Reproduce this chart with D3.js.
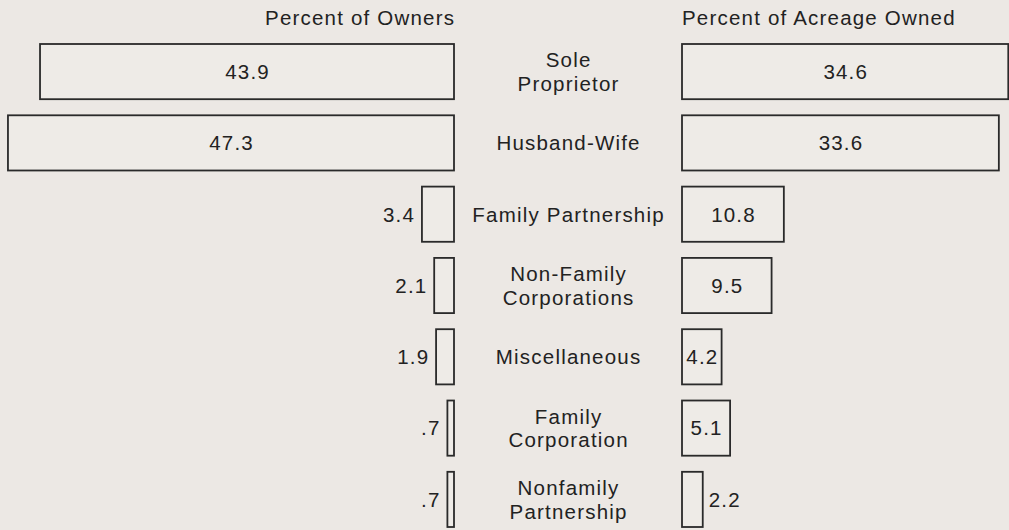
<!DOCTYPE html>
<html>
<head>
<meta charset="utf-8">
<script src="https://cdn.jsdelivr.net/npm/d3@7"></script>
<style>
  html, body { margin: 0; padding: 0; background: #ece8e4; }
  svg { display: block; }
  text { font-family: "Liberation Sans", Arial, Helvetica, sans-serif; fill: #222; }
</style>
</head>
<body>
<svg id="chart" width="1009" height="530"></svg>
<script>
// ---- data ----
const categories = [
  ["Sole", "Proprietor"],
  ["Husband-Wife"],
  ["Family Partnership"],
  ["Non-Family", "Corporations"],
  ["Miscellaneous"],
  ["Family", "Corporation"],
  ["Nonfamily", "Partnership"]
];
const ownersPct  = [43.9, 47.3, 3.4, 2.1, 1.9, 0.7, 0.7];
const acreagePct = [34.6, 33.6, 10.8, 9.5, 4.2, 5.1, 2.2];
const ownerLabels   = ["43.9", "47.3", "3.4", "2.1", "1.9", ".7", ".7"];
const acreageLabels = ["34.6", "33.6", "10.8", "9.5", "4.2", "5.1", "2.2"];
const headers = ["Percent of Owners", "Percent of Acreage Owned"];

// ---- layout ----
const W = 1009, H = 530;
const LS = 1.2;          // letter spacing
const FS = 20.5;         // font size
const leftEdge = 454, rightEdge = 682;
const svg = d3.select("#chart");

const keys = categories.map(c => c.join(" "));
const y = d3.scaleBand().domain(keys).range([44, 527]).paddingInner(0.226).paddingOuter(0);
const xL = d3.scaleLinear().domain([0, 50]).range([leftEdge, leftEdge - 471.5]);
const xR = d3.scaleLinear().domain([0, 50]).range([rightEdge, rightEdge + 471.5]);

const rows = keys.map((k, i) => ({
  key: k, lines: categories[i],
  own: ownersPct[i], acr: acreagePct[i],
  ownL: ownerLabels[i], acrL: acreageLabels[i]
}));

function txt(sel) {
  return sel.attr("font-size", FS).attr("letter-spacing", LS);
}

// headers
txt(svg.append("text")).attr("x", leftEdge + LS).attr("y", 25)
  .attr("text-anchor", "end").text(headers[0]);
txt(svg.append("text")).attr("x", rightEdge).attr("y", 25)
  .attr("text-anchor", "start").text(headers[1]);

const g = svg.append("g");
const strokeC = "#2a2a2a";

// left bars
g.selectAll("rect.own").data(rows).join("rect").attr("class", "own")
  .attr("x", d => xL(d.own)).attr("y", d => y(d.key))
  .attr("width", d => xL(0) - xL(d.own)).attr("height", y.bandwidth())
  .attr("fill", "#eeebe7").attr("stroke", strokeC).attr("stroke-width", 1.8);

// right bars
g.selectAll("rect.acr").data(rows).join("rect").attr("class", "acr")
  .attr("x", xR(0)).attr("y", d => y(d.key))
  .attr("width", d => xR(d.acr) - xR(0)).attr("height", y.bandwidth())
  .attr("fill", "#eeebe7").attr("stroke", strokeC).attr("stroke-width", 1.8);

// value labels
const mid = d => y(d.key) + y.bandwidth() / 2;
const minInside = 38;
rows.forEach(d => {
  const wL = xL(0) - xL(d.own);
  const tL = txt(g.append("text")).attr("y", mid(d)).attr("dy", "0.36em").text(d.ownL);
  if (wL > minInside) tL.attr("x", (xL(0) + xL(d.own)) / 2 + LS / 2).attr("text-anchor", "middle");
  else tL.attr("x", xL(d.own) - 8 + LS).attr("text-anchor", "end");

  const wR = xR(d.acr) - xR(0);
  const tR = txt(g.append("text")).attr("y", mid(d)).attr("dy", "0.36em").text(d.acrL);
  if (wR > minInside) tR.attr("x", (xR(0) + xR(d.acr)) / 2 + LS / 2).attr("text-anchor", "middle");
  else tR.attr("x", xR(d.acr) + 6).attr("text-anchor", "start");

  // category label (one text element, lines as tspans)
  const cx = (leftEdge + rightEdge) / 2 + LS / 2;
  const lh = 23.8;
  const n = d.lines.length;
  const t = txt(g.append("text")).attr("text-anchor", "middle");
  d.lines.forEach((ln, j) => {
    t.append("tspan").attr("x", cx)
      .attr("y", mid(d) + (j - (n - 1) / 2) * lh + 0.36 * FS).text(ln);
  });
});
</script>
</body>
</html>
